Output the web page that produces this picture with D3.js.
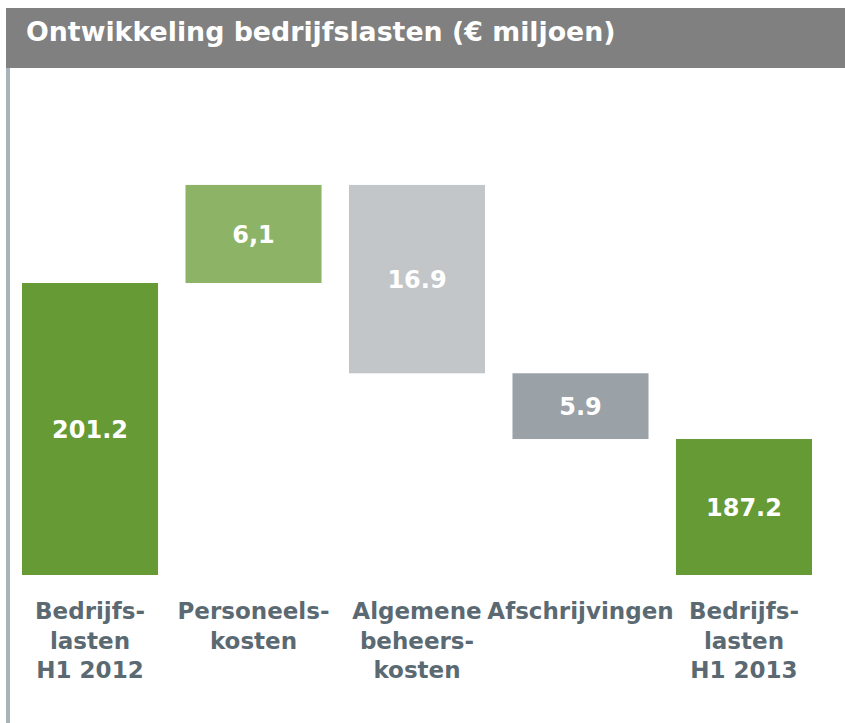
<!DOCTYPE html>
<html>
<head>
<meta charset="utf-8">
<script src="https://cdn.jsdelivr.net/npm/d3@7"></script>
<style>
  body { margin: 0; background: #fff; }
  svg text { font-family: "DejaVu Sans", Verdana, sans-serif; font-weight: bold; }
</style>
</head>
<body>
<div id="chart"></div>
<script>
// waterfall data (bar heights, labels as printed)
var categories = [
  ['Bedrijfs-', 'lasten', 'H1 2012'],
  ['Personeels-', 'kosten'],
  ['Algemene', 'beheers-', 'kosten'],
  ['Afschrijvingen'],
  ['Bedrijfs-', 'lasten', 'H1 2013']
];
var deltas = [201.2, 8.8, -16.9, -5.9, 187.2];
var isTotal = [true, false, false, false, true];
var valueLabels = ['201.2', '6,1', '16.9', '5.9', '187.2'];
var colors = ['#659a34', '#8db366', '#c2c6c9', '#9ba2a7', '#659a34'];
var title = 'Ontwikkeling bedrijfslasten (\u20ac miljoen)';

var width = 845, height = 723;

var svg = d3.select('#chart')
  .append('svg')
  .attr('width', width)
  .attr('height', height);

// header band
svg.append('rect')
  .attr('x', 6).attr('y', 8)
  .attr('width', width - 6).attr('height', 60)
  .attr('fill', '#808080');

svg.append('text')
  .attr('x', 26).attr('y', 41)
  .attr('fill', '#fff')
  .style('font-size', '26.8px')
  .text(title);

// left rule
svg.append('rect')
  .attr('x', 6).attr('y', 68)
  .attr('width', 4).attr('height', height - 68)
  .attr('fill', '#aab3b8');

// running levels
var level = 0;
var bars = deltas.map(function (d, i) {
  var lo, hi;
  if (isTotal[i]) {
    lo = 175; hi = d; level = d;
  } else {
    lo = Math.min(level, level + d);
    hi = Math.max(level, level + d);
    level = level + d;
  }
  return { i: i, lo: lo, hi: hi };
});

var x = d3.scaleBand()
  .domain(d3.range(deltas.length))
  .range([22, 812])
  .paddingInner(0.168)
  .paddingOuter(0);

// axis is broken: baseline sits at 175
var y = d3.scaleLinear()
  .domain([175, 201.2])
  .range([575, 283]);

var g = svg.append('g');

g.selectAll('rect.bar')
  .data(bars)
  .enter()
  .append('rect')
  .attr('class', 'bar')
  .attr('x', function (d) { return x(d.i); })
  .attr('width', x.bandwidth())
  .attr('y', function (d) { return y(d.hi); })
  .attr('height', function (d) { return y(d.lo) - y(d.hi); })
  .attr('fill', function (d) { return colors[d.i]; });

g.selectAll('text.val')
  .data(bars)
  .enter()
  .append('text')
  .attr('class', 'val')
  .attr('x', function (d) { return x(d.i) + x.bandwidth() / 2; })
  .attr('y', function (d) { return (y(d.hi) + y(d.lo)) / 2; })
  .attr('dy', '0.36em')
  .attr('text-anchor', 'middle')
  .attr('fill', '#fff')
  .style('font-size', '24px')
  .text(function (d) { return valueLabels[d.i]; });

var cat = g.selectAll('text.cat')
  .data(categories)
  .enter()
  .append('text')
  .attr('class', 'cat')
  .attr('x', function (d, i) { return x(i) + x.bandwidth() / 2; })
  .attr('y', 619)
  .attr('text-anchor', 'middle')
  .attr('fill', '#5b6a72')
  .style('font-size', '23px');

cat.selectAll('tspan')
  .data(function (d) { return d; })
  .enter()
  .append('tspan')
  .attr('x', function () { return d3.select(this.parentNode).attr('x'); })
  .attr('dy', function (d, j) { return j === 0 ? 0 : 29.5; })
  .text(function (d) { return d; });
</script>
</body>
</html>
